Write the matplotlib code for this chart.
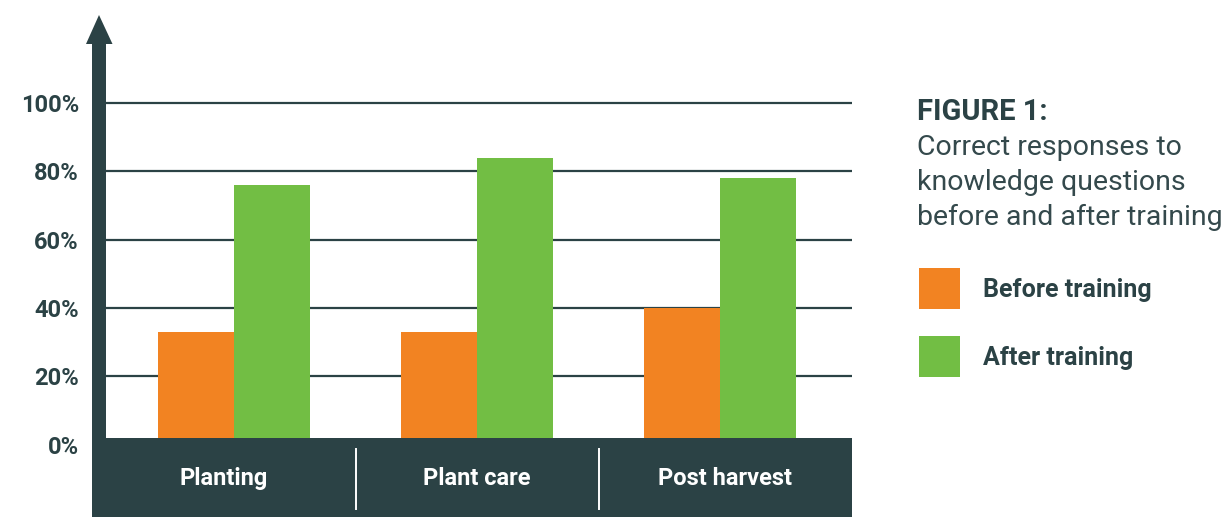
"""
Grouped bar chart: share of correct answers to knowledge questions,
before and after training, for three topics.
Writes out.png (1232 x 517 px).
"""
import numpy as np
import matplotlib.pyplot as plt
from matplotlib.patches import Rectangle, Polygon
from matplotlib.lines import Line2D
from matplotlib.transforms import blended_transform_factory

# --------------------------------------------------------------------------
# Data
# --------------------------------------------------------------------------
CATEGORIES = ["Planting", "Plant care", "Post harvest"]
SERIES_LABELS = ["Before training", "After training"]
BEFORE = [33, 33, 40]
AFTER = [76, 84, 78]
Y_TICKS = [0, 20, 40, 60, 80, 100]
Y_TICK_LABELS = ["0%", "20%", "40%", "60%", "80%", "100%"]

TITLE = "FIGURE 1:"
SUBTITLE = ["Correct responses to",
            "knowledge questions",
            "before and after training"]

# --------------------------------------------------------------------------
# Style
# --------------------------------------------------------------------------
DARK = "#2b4245"
TEXT = "#34494c"
ORANGE = "#f28322"
GREEN = "#72be44"
FONT = ["Roboto", "DejaVu Sans"]

W, H = 1232, 517          # output size in pixels (dpi = 100)
PLOT_LEFT, PLOT_RIGHT = 106, 852
ZERO_Y, TOP_Y = 444.7, 68.8   # pixel rows of 0 % and of the top limit
Y_MAX = 110
BAND_TOP, BAND_LEFT = 438, 92
GROUP_STEP = 243          # pixels between category centres
FIRST_CENTER = 234
BAR_W = 76 / GROUP_STEP

plt.rcParams["font.family"] = FONT


def fx(px):
    return px / W


def fy(py):
    return 1 - py / H


fig = plt.figure(figsize=(W / 100, H / 100), dpi=100)
fig.patch.set_facecolor("white")

ax = fig.add_axes([fx(PLOT_LEFT), fy(ZERO_Y),
                   fx(PLOT_RIGHT) - fx(PLOT_LEFT), fy(TOP_Y) - fy(ZERO_Y)])
ax.set_xlim((PLOT_LEFT - FIRST_CENTER) / GROUP_STEP,
            (PLOT_RIGHT - FIRST_CENTER) / GROUP_STEP)
ax.set_ylim(0, Y_MAX)

x = np.arange(len(CATEGORIES))
ax.bar(x - BAR_W / 2, BEFORE, BAR_W, color=ORANGE, zorder=2)
ax.bar(x + BAR_W / 2, AFTER, BAR_W, color=GREEN, zorder=2)

# grid + y labels
ax.set_yticks(Y_TICKS, Y_TICK_LABELS)
ax.yaxis.grid(True, color=DARK, linewidth=1.6)
ax.set_axisbelow(True)
ax.tick_params(axis="y", length=0, pad=19.5, labelsize=17, labelcolor=DARK)
for lab in ax.get_yticklabels():
    lab.set_fontweight("bold")
ax.set_xticks([])
for s in ax.spines.values():
    s.set_visible(False)
ax.patch.set_alpha(0)

# --------------------------------------------------------------------------
# Category band at the bottom, vertical arrow axis
# --------------------------------------------------------------------------
fig.add_artist(Rectangle((fx(BAND_LEFT), 0), fx(PLOT_RIGHT) - fx(BAND_LEFT),
                         fy(BAND_TOP), transform=fig.transFigure,
                         facecolor=DARK, edgecolor="none", zorder=5))

arrow_px = [(92, BAND_TOP), (92, 44), (86, 44), (99, 15),
            (112.5, 44), (106, 44), (106, BAND_TOP)]
fig.add_artist(Polygon([(fx(a), fy(b)) for a, b in arrow_px],
                       closed=True, transform=fig.transFigure,
                       facecolor=DARK, edgecolor="none", zorder=5))

mixed = blended_transform_factory(ax.transData, fig.transFigure)
for sep in x[:-1] + 0.5:
    fig.add_artist(Line2D([sep, sep], [fy(449), fy(509)], transform=mixed,
                          color="white", linewidth=1.4, zorder=6))

# labels centred in their band sections
band_left = (BAND_LEFT - FIRST_CENTER) / GROUP_STEP
edges = [band_left] + list(x[:-1] + 0.5) + [ax.get_xlim()[1]]
for i, name in enumerate(CATEGORIES):
    cx = (edges[i] + edges[i + 1]) / 2
    fig.text(cx, fy(485), name, transform=mixed, ha="center", va="baseline",
             color="white", fontsize=17, fontweight="bold", zorder=7)

# --------------------------------------------------------------------------
# Title block and legend
# --------------------------------------------------------------------------
fig.text(fx(917), fy(120), TITLE, ha="left", va="baseline",
         color=DARK, fontsize=21, fontweight="bold")
for k, line in enumerate(SUBTITLE):
    fig.text(fx(917), fy(155 + 35 * k), line, ha="left", va="baseline",
             color=TEXT, fontsize=20.5)

for k, (lab, col) in enumerate(zip(SERIES_LABELS, [ORANGE, GREEN])):
    top = 268 + 68 * k
    fig.add_artist(Rectangle((fx(919), fy(top + 41)), fx(41), 41 / H,
                             transform=fig.transFigure, facecolor=col,
                             edgecolor="none"))
    fig.text(fx(983), fy(297.5 + 68 * k), lab, ha="left", va="baseline",
             color=DARK, fontsize=18, fontweight="bold")

fig.savefig("out.png", dpi=100, facecolor="white")
